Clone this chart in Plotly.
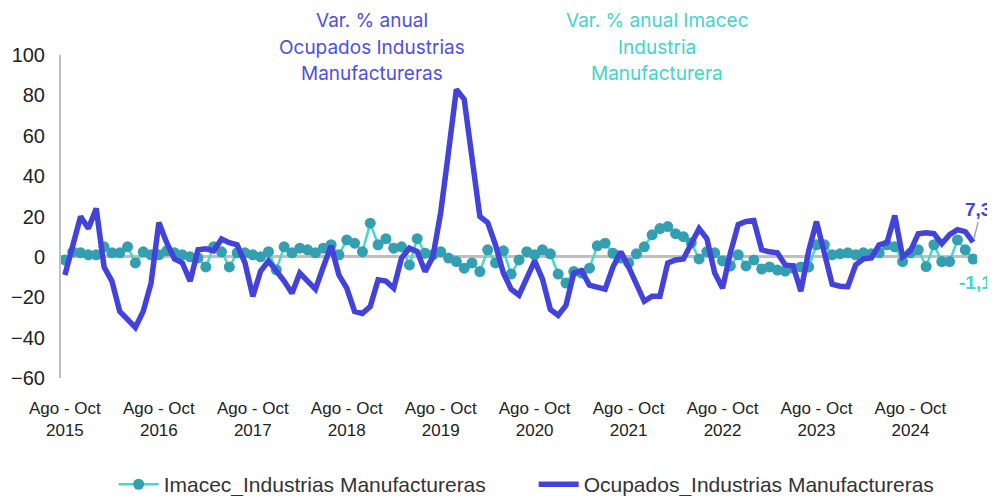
import plotly.graph_objects as go

# ---------------- data ----------------
meses = ["Ene", "Feb", "Mar", "Abr", "May", "Jun", "Jul", "Ago", "Sep", "Oct", "Nov", "Dic"]
n_periods = 117
start_year, start_month = 2015, 7  # index of "Ago" (first month of moving quarter)

periods = []
for k in range(n_periods):
    m0 = start_month + k
    m2 = m0 + 2
    y2 = start_year + m2 // 12
    periods.append(f"{meses[m0 % 12]} - {meses[m2 % 12]} {y2}")

imacec = [
    -1.5, 2.5, 2, 1, 1, 5, 2, 2, 5, -3,
    2.5, 1, 1, 3, 2, 1, 0, -0.5, -5, 5,
    2.5, -5, 2, 2, 1, 0, 2.6, -6.4, 5, 2,
    4.3, 3.5, 2, 4.3, 6, 1, 8.4, 6.8, 2.6, 16.7,
    6, 9, 4.3, 5, -4, 9, 1.8, 1, 2.6, -0.6,
    -2.3, -5.6, -3, -7.3, 3.5, -3, 3, -8.5, -1.5, 2.6,
    1, 3.5, 1.5, -8.5, -13, -7.3, -8, -5.6, 5.5, 6.8,
    1.8, -0.6, -3, 1.5, 5, 10.9, 14, 15, 11.5, 10,
    7, -1, 2.6, 2, -2, -4.5, 1, -4.5, -1.5, -6,
    -5, -6.5, -7, -5.6, -5, -5, 6, 6, 1, 1.5,
    2, 1, 2, 1.5, 2, 6, 5, -2.3, 2, 3.5,
    -4.8, 6, -2.3, -2.3, 8.4, 3.5, -1.1,
]

ocupados = [
    -9, 5, 20, 14, 24, -5, -12, -27, -31, -35,
    -27, -13, 17, 7, -1, -3, -12, 3.5, 4, 3,
    8.8, 7, 6, -3, -19.6, -7, -2, -6.5, -12, -18,
    -8, -12, -16, -5, 5.5, -9, -15.5, -27, -28, -24.6,
    -11.4, -12, -15.5, -0.6, 4.3, 2.6, -7.3, 0, 22, 52,
    83, 78, 47, 20, 17, 6, -8, -16, -19, -10,
    -2, -11, -26, -29, -24, -8, -7, -14, -15, -16,
    -5, 2.6, -5, -14, -22, -19.5, -19.5, -3, -1.5, -1,
    6, 14, 9, -8, -15.5, 2, 16, 17.5, 18, 3.5,
    2.5, 2, -4, -4.5, -17, 3, 17.5, 2, -13.5, -14.5,
    -14.7, -4, -1, -0.5, 6, 7, 20.5, 0, 3, 11.5,
    12, 11.5, 6.5, 11, 13.5, 12.5, 7.3,
]

y_ticks = [-60, -40, -20, 0, 20, 40, 60, 80, 100]

title_ocupados = ["Var. % anual", "Ocupados Industrias", "Manufactureras"]
title_imacec = ["Var. % anual Imacec", "Industria", "Manufacturera"]

BLUE = "#4343DC"
TEAL_LINE = "#42DACF"
TEAL_MARK = "#359FB2"
TEAL_TEXT = "#45D3CB"
FONT = "Liberation Sans"

tick_idx = list(range(0, n_periods, 12))
tick_vals = [periods[i] for i in tick_idx]
tick_text = [p.rsplit(" ", 1)[0] + "<br>" + p.rsplit(" ", 1)[1] for p in tick_vals]

fig = go.Figure()
fig.add_trace(go.Scatter(
    x=periods, y=imacec, mode="lines+markers",
    name="Imacec_Industrias Manufactureras",
    line=dict(color=TEAL_LINE, width=2.5),
    marker=dict(color=TEAL_MARK, size=11),
))
fig.add_trace(go.Scatter(
    x=periods, y=ocupados, mode="lines",
    name="Ocupados_Industrias Manufactureras",
    line=dict(color=BLUE, width=5.5),
))

# end labels
fig.add_annotation(x=periods[-1], y=ocupados[-1], text="<b>7,3</b>",
                   showarrow=True, arrowhead=0, arrowcolor="#A6A6A6", arrowwidth=1.5,
                   ax=5, ay=-20, font=dict(size=19, color=BLUE, family=FONT),
                   xanchor="center", yanchor="bottom", standoff=3)
fig.add_annotation(x=periods[-1], y=imacec[-1], text="<b>-1,1</b>",
                   showarrow=False, xshift=2, yshift=-23,
                   font=dict(size=19, color=TEAL_TEXT, family=FONT))

# series titles (one annotation per line for Excel-like line spacing)
line_shifts = [35, 8, -18]
for txt, ys in zip(title_ocupados, line_shifts):
    fig.add_annotation(xref="paper", yref="paper", x=(364 - 53) / 916, y=1.0, yshift=ys,
                       text=txt, showarrow=False, yanchor="middle", xanchor="center",
                       font=dict(size=19, color="#5050DC", family="Inter"))
for txt, ys in zip(title_imacec, line_shifts):
    fig.add_annotation(xref="paper", yref="paper", x=(649 - 53) / 916, y=1.0, yshift=ys,
                       text=txt, showarrow=False, yanchor="middle", xanchor="center",
                       font=dict(size=19, color=TEAL_TEXT, family="Inter"))

fig.update_layout(
    width=987, height=488,
    margin=dict(l=53, r=18, t=47, b=118, autoexpand=False),
    paper_bgcolor="white", plot_bgcolor="white",
    showlegend=True,
    legend=dict(orientation="h", x=0.516, xanchor="center", y=-0.33, yanchor="middle",
                font=dict(size=21, family=FONT, color="#333"),
                itemwidth=40, traceorder="normal",
                entrywidth=365, entrywidthmode="pixels"),
    font=dict(family=FONT, color="#222"),
)
fig.update_xaxes(
    type="category", range=[-0.5, n_periods - 0.5], automargin=False,
    tickmode="array", tickvals=tick_vals, ticktext=tick_text,
    tickangle=0, showgrid=False, showline=False, zeroline=False, ticks="",
    tickfont=dict(size=17, family=FONT, color="#222"),
    ticklabelstandoff=18,
)
fig.update_yaxes(
    range=[-60, 100], tickmode="array", tickvals=y_ticks, automargin=False,
    showgrid=False, showline=True, linecolor="#BFBFBF", linewidth=2,
    zeroline=True, zerolinecolor="#BFBFBF", zerolinewidth=2.5,
    tickfont=dict(size=20, family=FONT, color="#222"),
    ticks="", ticklabelstandoff=10,
)

fig.write_html("out.html")
